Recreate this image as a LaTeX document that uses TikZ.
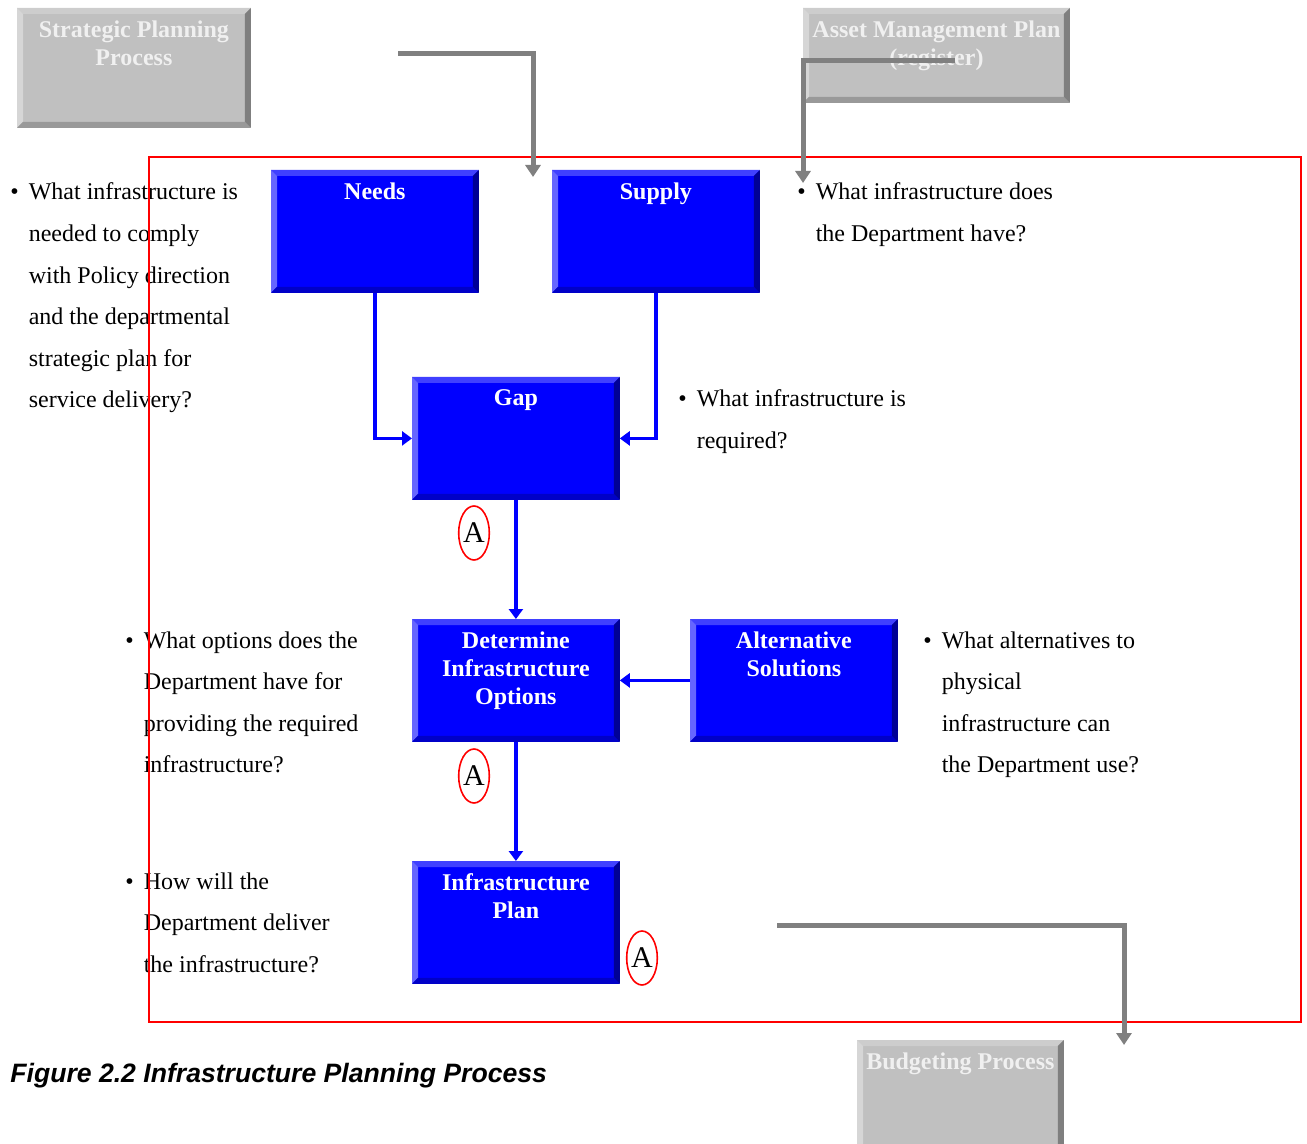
\documentclass[tikz,border=0pt]{standalone}
\usepackage{fontspec}
\setmainfont{Liberation Serif}
\newfontfamily\captionfont{Liberation Sans}
\usetikzlibrary{arrows.meta,calc,shapes.geometric}

\definecolor{boxblue}{RGB}{0,0,255}
\definecolor{bluetop}{RGB}{64,64,255}
\definecolor{blueleft}{RGB}{102,102,255}
\definecolor{bluebottom}{RGB}{0,0,200}
\definecolor{blueright}{RGB}{0,0,150}
\definecolor{boxgray}{RGB}{192,192,192}
\definecolor{graytop}{RGB}{205,205,205}
\definecolor{grayleft}{RGB}{214,214,214}
\definecolor{graybottom}{RGB}{153,153,153}
\definecolor{grayright}{RGB}{127,127,127}
\definecolor{linkgray}{RGB}{128,128,128}

% bevelled edges of a box node: name, top, left, bottom, right colour
\newcommand{\bevel}[5]{%
  \fill[#2] (#1.north west) -- (#1.north east) -- ($(#1.north east)+(-6,6)$) -- ($(#1.north west)+(6,6)$) -- cycle;
  \fill[#3] (#1.north west) -- ($(#1.north west)+(6,6)$) -- ($(#1.south west)+(6,-6)$) -- (#1.south west) -- cycle;
  \fill[#4] (#1.south west) -- ($(#1.south west)+(6,-6)$) -- ($(#1.south east)+(-6,-6)$) -- (#1.south east) -- cycle;
  \fill[#5] (#1.south east) -- ($(#1.south east)+(-6,-6)$) -- ($(#1.north east)+(-6,6)$) -- (#1.north east) -- cycle;
}
\newcommand{\qitem}[1]{\begin{tabular}[t]{@{}l@{\hspace{5pt}}l@{}}\textbullet & #1\end{tabular}}

\tikzset{
  bluebox/.style={fill=boxblue, anchor=north west, inner sep=0, minimum width=103.5pt, minimum height=61pt},
  graybox/.style={fill=boxgray, anchor=north west, inner sep=0},
  boxtitle/.style={anchor=north, inner xsep=0, inner ysep=6pt, text=white, align=center, font=\fontsize{12}{14}\selectfont\bfseries},
  graytitle/.style={boxtitle, text=white!94!black},
  qtext/.style={anchor=base west, inner sep=0, font=\fontsize{12}{20.8}\selectfont},
  flow/.style={draw=blue, line width=1.6pt, -{Triangle[width=7pt,length=5pt]}},
  feed/.style={draw=linkgray, line width=2.5pt, -{Triangle[width=7.5pt,length=6pt]}},
  acircle/.style={ellipse, draw=red, line width=0.8pt, inner sep=0, minimum width=14pt, minimum height=27pt, font=\fontsize{15}{15}\selectfont},
}

\begin{document}
\begin{tikzpicture}[x=0.5pt,y=0.5pt,yscale=-1,xscale=1]
	\useasboundingbox (0,0) rectangle (1307,1144);

	% outside processes
	\node[graybox, minimum width=116.5pt, minimum height=59.5pt, label={[graytitle]north:{Strategic Planning\\Process}}] (strategic) at (17,8) {};
	\bevel{strategic}{graytop}{grayleft}{graybottom}{grayright}
	\node[graybox, minimum width=133pt, minimum height=47pt, label={[graytitle]north:{Asset Management Plan\\(register)}}] (asset) at (803,8) {};
	\bevel{asset}{graytop}{grayleft}{graybottom}{grayright}
	\node[graybox, minimum width=103pt, minimum height=57pt, label={[graytitle]north:{Budgeting Process}}] (budget) at (857,1040) {};
	\bevel{budget}{graytop}{grayleft}{graybottom}{grayright}

	% planning steps
	\node[bluebox, label={[boxtitle]north:Needs}] (needs) at (271,170) {};
	\bevel{needs}{bluetop}{blueleft}{bluebottom}{blueright}
	\node[bluebox, label={[boxtitle]north:Supply}] (supply) at (552,170) {};
	\bevel{supply}{bluetop}{blueleft}{bluebottom}{blueright}
	\node[bluebox, label={[boxtitle]north:Gap}] (gap) at (412,377) {};
	\bevel{gap}{bluetop}{blueleft}{bluebottom}{blueright}
	\node[bluebox, label={[boxtitle]north:{Determine\\Infrastructure\\Options}}] (options) at (412,619) {};
	\bevel{options}{bluetop}{blueleft}{bluebottom}{blueright}
	\node[bluebox, label={[boxtitle]north:{Alternative\\Solutions}}] (alt) at (690,619) {};
	\bevel{alt}{bluetop}{blueleft}{bluebottom}{blueright}
	\node[bluebox, label={[boxtitle]north:{Infrastructure\\Plan}}] (plan) at (412,861) {};
	\bevel{plan}{bluetop}{blueleft}{bluebottom}{blueright}

	% questions
	\node[qtext] (qneeds) at (10,200) {\qitem{What infrastructure is\\ & needed to comply\\ & with Policy direction\\ & and the departmental\\ & strategic plan for\\ & service delivery?}};
	\node[qtext] (qsupply) at (797,200) {\qitem{What infrastructure does\\ & the Department have?}};
	\node[qtext] (qgap) at (678,407) {\qitem{What infrastructure is\\ & required?}};
	\node[qtext] (qoptions) at (125,648) {\qitem{What options does the\\ & Department have for\\ & providing the required\\ & infrastructure?}};
	\node[qtext] (qalt) at (923,648) {\qitem{What alternatives to\\ & physical\\ & infrastructure can\\ & the Department use?}};
	\node[qtext] (qplan) at (125,889) {\qitem{How will the\\ & Department deliver\\ & the infrastructure?}};

	% approval marks
	\node[acircle] (a1) at (474,533) {A};
	\node[acircle] (a2) at (474,776) {A};
	\node[acircle] (a3) at (642,958) {A};

	% frame of the planning process
	\draw[red, line width=0.6pt] (149,157) rectangle (1301,1022);

	% links to outside processes
	\coordinate (sfrom) at (398,54);
	\coordinate (sto) at (533,177);
	\draw[feed] (sfrom) -| (sto);
	\coordinate (afrom) at (955,61);
	\coordinate (ato) at (803,183);
	\draw[feed] (afrom) -| (ato);
	\coordinate (bfrom) at (777,925);
	\coordinate (bto) at (1124,1045);
	\draw[feed] (bfrom) -| (bto);

	% flow between steps
	\draw[flow] (needs.south) |- (gap.west);
	\draw[flow] (supply.south) |- (gap.east);
	\draw[flow] (gap.south) -- (options.north);
	\draw[flow] (alt.west) -- (options.east);
	\draw[flow] (options.south) -- (plan.north);

	% caption
	\node[anchor=base west, inner sep=0, font=\captionfont\bfseries\itshape\fontsize{13.3}{16}\selectfont] (caption) at (10,1082) {Figure 2.2 Infrastructure Planning Process};

\end{tikzpicture}
\end{document}
